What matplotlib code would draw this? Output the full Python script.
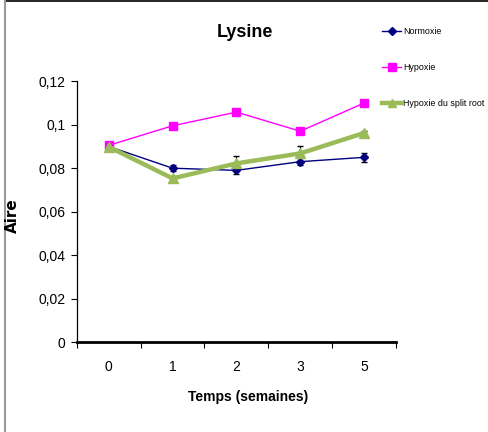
import matplotlib.pyplot as plt
from matplotlib.lines import Line2D

# data
semaines = ['0', '1', '2', '3', '5']
normoxie = [0.090, 0.080, 0.079, 0.083, 0.085]
normoxie_err = [0.001, 0.0015, 0.0015, 0.0015, 0.002]
hypoxie = [0.0905, 0.0995, 0.1058, 0.097, 0.110]
hypoxie_err = [0.001, 0.001, 0.001, 0.001, 0.001]
split_root = [0.0898, 0.0753, 0.0822, 0.0868, 0.0962]
split_root_err = [0.001, 0.001, 0.0035, 0.0033, 0.001]
y_ticks = [0, 0.02, 0.04, 0.06, 0.08, 0.1, 0.12]
y_ticklabels = ['0', '0,02', '0,04', '0,06', '0,08', '0,1', '0,12']
series_names = ['Normoxie', 'Hypoxie', 'Hypoxie du split root']

plt.rcParams['font.family'] = ['Liberation Sans', 'DejaVu Sans']

fig = plt.figure(figsize=(4.89, 4.32), dpi=100)
ax = fig.add_axes([0.157, 0.208, 0.653, 0.604])

styles = [
    dict(color='#000080', lw=1.0, marker='D', ms=4),
    dict(color='#FF00FF', lw=1.0, marker='s', ms=6),
    dict(color='#9BBB59', lw=3.2, marker='^', ms=7),
]

x = range(len(semaines))
for vals, errs, st in zip([normoxie, hypoxie, split_root],
                          [normoxie_err, hypoxie_err, split_root_err], styles):
    ax.errorbar(x, vals, yerr=errs, ecolor='black', elinewidth=0.8, capsize=2, zorder=3, **st)

ax.set_xlim(-0.5, 4.5)
ax.set_ylim(0, 0.12)
ax.set_yticks(y_ticks)
ax.set_yticklabels(y_ticklabels, fontsize=10)
ax.set_xticks(list(x))
ax.set_xticklabels(semaines, fontsize=10)
ax.tick_params(axis='x', which='major', length=0, pad=13)
ax.set_xticks([i - 0.5 for i in range(len(semaines) + 1)], minor=True)
ax.tick_params(axis='x', which='minor', length=4, width=0.8, direction='out')
ax.tick_params(axis='y', length=4, width=0.8, direction='out', pad=4)

ax.spines['top'].set_visible(False)
ax.spines['right'].set_visible(False)
ax.spines['bottom'].set_linewidth(2)
ax.spines['left'].set_linewidth(0.9)

fig.text(0.501, 0.924, 'Lysine', ha='center', va='center', fontsize=13, fontweight='bold')
fig.text(0.507, 0.081, 'Temps (semaines)', ha='center', va='center', fontsize=10, fontweight='bold')
fig.text(0.025, 0.5, 'Aire', rotation=90, ha='center', va='center', fontsize=11, fontweight='bold',
         family='DejaVu Sans')

# legend drawn by hand, to the right of the plot
W, H = 489, 432
for i, (name, st) in enumerate(zip(series_names, styles)):
    yy = 1 - (31 + 36 * i) / H
    fig.add_artist(Line2D([382 / W, 401 / W], [yy, yy], color=st['color'], lw=st['lw']))
    fig.add_artist(Line2D([391.5 / W], [yy], color=st['color'], marker=st['marker'],
                          ms=min(st['ms'], 6), lw=0))
    fig.text(403 / W, yy, name, ha='left', va='center', fontsize=6.4)

# outer frame: top line and grey left edge
fig.add_artist(Line2D([0.01, 1.0], [0.997, 0.997], color='black', lw=1.2))
fig.add_artist(Line2D([0.011, 0.011], [0, 1.0], color='#999999', lw=1.5))

fig.savefig('out.png', dpi=100)
